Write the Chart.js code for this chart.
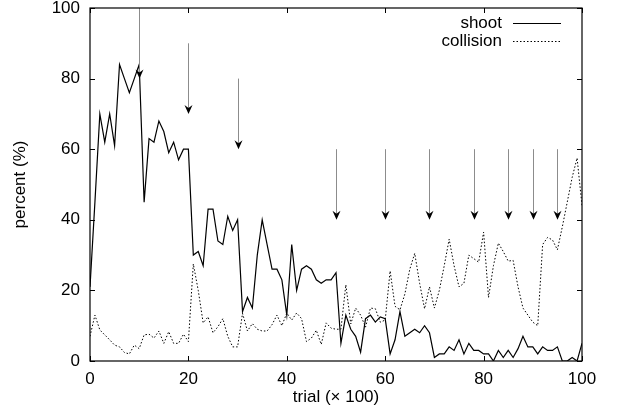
<!DOCTYPE html>
<html><head><meta charset="utf-8">
<script src="https://cdn.jsdelivr.net/npm/chart.js@4/dist/chart.umd.min.js"></script>
<style>html,body{margin:0;padding:0;background:#fff}</style>
</head><body>
<canvas id="c" width="618" height="409"></canvas>
<script>
const trials = [0,1,2,3,4,5,6,7,8,9,10,11,12,13,14,15,16,17,18,19,20,21,22,23,24,25,26,27,28,29,30,31,32,33,34,35,36,37,38,39,40,41,42,43,44,45,46,47,48,49,50,51,52,53,54,55,56,57,58,59,60,61,62,63,64,65,66,67,68,69,70,71,72,73,74,75,76,77,78,79,80,81,82,83,84,85,86,87,88,89,90,91,92,93,94,95,96,97,98,99,100];
const shoot = [21,45,70,62,70,61,84,80,76,80,84,45,63,62,68,65,59,62,57,60,60,30,31,27,43,43,34,33,41,37,40,14,18,15,30,40,33,26,26,23,13,33,20,26,27,26,23,22,23,23,25,5,13,9,7,2.5,12,13,11,12.5,12,2,6,14,7,8,9,8,10,8,1,2,2,4,3,6,2,5,3,3,2,2,0,3,1,3,1,3.5,7,4,4,2,4,3,3,4,0,0,1,0,5];
const collision = [7,13,8.8,7.4,6,4.5,4,2.4,2,4.5,3.5,7.4,7.6,6.5,8.5,5,8.3,5,5,7.6,5.5,27.5,20,10.8,12.5,8,9.7,12,7,4,4,13.5,8.5,10.6,9,8.5,8.5,10.3,13,10,13.6,11.6,13.6,12,5.5,6.5,8.7,4.7,10.8,9.3,9,9,21.6,10.5,15,13,9.6,15,14.8,11,11.6,25.5,15.5,14.5,19,26,30.5,22,14.8,21,15,20,27,34.5,27,21,22,30,29,28,36.5,18,27,33.4,31,28.3,28.5,21,15,13,11,10,33,35,34.3,31.5,38,45,52,57.5,44];
const xTicks = [0,20,40,60,80,100];
const yTicks = [0,20,40,60,80,100];
const arrowX = [10,20,30,50,60,69,78,85,90,95];
const arrowFrom = [100,90,80,60,60,60,60,60,60,60];
const arrowTo = [80,70,60,40,40,40,40,40,40,40];
const seriesNames = ['shoot','collision'];

const FONT = 'Liberation Sans, Arial, Helvetica, sans-serif';

const framePlugin = {
  id: 'frame',
  afterDraw(chart) {
    const ctx = chart.ctx, a = chart.chartArea;
    const xs = chart.scales.x, ys = chart.scales.y;
    ctx.save();
    // arrows
    for (let i = 0; i < arrowX.length; i++) {
      const px = Math.round(xs.getPixelForValue(arrowX[i])) + 0.5;
      const y0 = ys.getPixelForValue(arrowFrom[i]);
      const y1 = ys.getPixelForValue(arrowTo[i]);
      ctx.strokeStyle = '#8c8c8c';
      ctx.lineWidth = 1;
      ctx.beginPath(); ctx.moveTo(px, y0); ctx.lineTo(px, y1 - 4); ctx.stroke();
      ctx.fillStyle = '#000';
      ctx.beginPath();
      ctx.moveTo(px, y1);
      ctx.lineTo(px - 4, y1 - 9);
      ctx.lineTo(px, y1 - 6);
      ctx.lineTo(px + 4, y1 - 9);
      ctx.closePath(); ctx.fill();
    }
    // frame
    ctx.strokeStyle = '#000';
    ctx.lineWidth = 1.2;
    ctx.strokeRect(a.left, a.top, a.right - a.left, a.bottom - a.top);
    // inside ticks, mirrored
    ctx.lineWidth = 1;
    ctx.beginPath();
    xTicks.forEach(v => {
      const px = Math.round(xs.getPixelForValue(v)) + 0.5;
      ctx.moveTo(px, a.bottom); ctx.lineTo(px, a.bottom - 5);
      ctx.moveTo(px, a.top); ctx.lineTo(px, a.top + 5);
    });
    yTicks.forEach(v => {
      const py = Math.round(ys.getPixelForValue(v)) + 0.5;
      ctx.moveTo(a.left, py); ctx.lineTo(a.left + 5, py);
      ctx.moveTo(a.right, py); ctx.lineTo(a.right - 5, py);
    });
    ctx.stroke();
    // legend
    ctx.font = '17px ' + FONT;
    ctx.fillStyle = '#000';
    ctx.textAlign = 'right';
    ctx.textBaseline = 'middle';
    const lx = a.right - 80;
    const rows = [a.top + 15, a.top + 33];
    for (let i = 0; i < 2; i++) {
      ctx.fillText(seriesNames[i], lx, rows[i]);
      ctx.beginPath();
      ctx.setLineDash(i === 0 ? [] : [1.5, 2]);
      ctx.lineWidth = i === 0 ? 1.2 : 1;
      ctx.moveTo(a.right - 69, rows[i] + 0.5);
      ctx.lineTo(a.right - 21, rows[i] + 0.5);
      ctx.stroke();
    }
    ctx.restore();
  }
};

new Chart(document.getElementById('c'), {
  type: 'line',
  data: {
    datasets: [
      { label: seriesNames[0], data: trials.map((t, i) => ({x: t, y: shoot[i]})),
        borderColor: '#000', borderWidth: 1.2, pointRadius: 0, tension: 0, fill: false },
      { label: seriesNames[1], data: trials.map((t, i) => ({x: t, y: collision[i]})),
        borderColor: '#000', borderWidth: 1, borderDash: [1.5, 2], pointRadius: 0, tension: 0, fill: false }
    ]
  },
  options: {
    responsive: false,
    devicePixelRatio: 1,
    animation: false,
    layout: { padding: { left: 0, right: 36, top: 8, bottom: 0 } },
    plugins: { legend: { display: false }, tooltip: { enabled: false } },
    scales: {
      x: {
        type: 'linear', min: 0, max: 100,
        afterFit: s => { s.height = 48; s.paddingLeft = 0; s.paddingRight = 0; },
        afterBuildTicks: s => { s.ticks = xTicks.map(v => ({value: v})); },
        grid: { display: false, drawTicks: false },
        border: { display: false },
        ticks: { padding: 8, color: '#000', font: { family: FONT, size: 17 }, maxRotation: 0 },
        title: { display: true, text: 'trial (× 100)', color: '#000', font: { family: FONT, size: 17 }, padding: { top: 0, bottom: 1 } }
      },
      y: {
        type: 'linear', min: 0, max: 100,
        afterFit: s => { s.width = 90; s.paddingTop = 0; s.paddingBottom = 0; },
        afterBuildTicks: s => { s.ticks = yTicks.map(v => ({value: v})); },
        grid: { display: false, drawTicks: false },
        border: { display: false },
        ticks: { padding: 10, color: '#000', font: { family: FONT, size: 17 } },
        title: { display: true, text: 'percent (%)', color: '#000', font: { family: FONT, size: 17 }, padding: { top: 10, bottom: 0 } }
      }
    }
  },
  plugins: [framePlugin]
});
</script>
</body></html>
